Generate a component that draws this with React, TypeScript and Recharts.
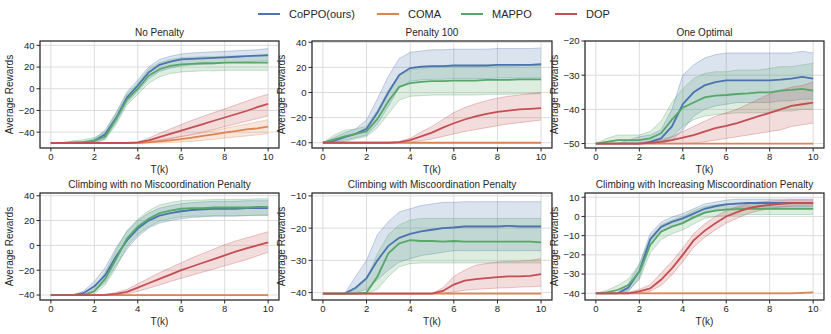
import React from "react";
import { ComposedChart, Line, Area, XAxis, YAxis, CartesianGrid } from "recharts";

// training steps (thousands)
const T = [0, 0.5, 1, 1.5, 2, 2.5, 3, 3.5, 4, 4.5, 5, 5.5, 6, 6.5, 7, 7.5, 8, 8.5, 9, 9.5, 10];

// flat baselines
const FLAT_50 = [-50, -50, -50, -50, -50, -50, -50, -50, -50, -50, -50, -50, -50, -50, -50, -50, -50, -50, -50, -50, -50];
const FLAT_40 = [-40, -40, -40, -40, -40, -40, -40, -40, -40, -40, -40, -40, -40, -40, -40, -40, -40, -40, -40, -40, -40];
const FLAT_403 = [-40.3, -40.3, -40.3, -40.3, -40.3, -40.3, -40.3, -40.3, -40.3, -40.3, -40.3, -40.3, -40.3, -40.3, -40.3, -40.3, -40.3, -40.3, -40.3, -40.3, -40.3];
const CI_COMA = [-40, -40, -40, -40, -40, -40, -40, -40, -40, -40, -40, -40, -40, -40, -40, -40, -40, -40, -40, -39.8, -39.5];

// No Penalty
const NP_COPPO = [-50, -50, -50, -50, -48, -42, -27, -8, 3, 15, 22, 25, 27, 27.5, 28, 28.5, 29, 29.5, 30, 30.5, 31];
const NP_COPPO_LO = [-50, -50, -50, -50, -50, -46, -31, -13, -2, 9, 16, 19, 21, 22, 22.5, 23, 24, 24.5, 25, 25.5, 26];
const NP_COPPO_HI = [-50, -50, -50, -49.5, -46, -38, -22, -3, 8, 20, 27, 30, 32, 33, 33.5, 34, 34.5, 35, 35.5, 36, 37];
const NP_COMA = [-50, -50, -50, -50, -50, -50, -50, -50, -50, -49.5, -48.5, -47.5, -46.5, -45, -43.5, -42, -40.5, -39, -37.5, -36.5, -35];
const NP_COMA_LO = [-50, -50, -50, -50, -50, -50, -50, -50, -50, -50, -50, -49.5, -49, -48.5, -47.5, -46.5, -45.5, -44.5, -43.5, -42.5, -41.5];
const NP_COMA_HI = [-50, -50, -50, -50, -50, -50, -50, -50, -49.5, -48.5, -47, -45.5, -44, -42.5, -40.5, -38.5, -36.5, -34.5, -32.5, -30.5, -28.5];
const NP_MAPPO = [-50, -50, -49.5, -49, -48, -44, -28, -10, 0, 12, 18, 21, 22.5, 23, 23.5, 23.5, 24, 24, 24, 24, 24];
const NP_MAPPO_LO = [-50, -50, -50, -50, -50, -47, -33, -15, -5, 5, 11, 14, 15.5, 16, 16.5, 16.5, 17, 17, 17, 17, 17];
const NP_MAPPO_HI = [-50, -50, -48, -47, -45, -40, -23, -5, 5, 18, 24, 27, 28.5, 29, 29.5, 29.5, 30, 30, 30, 30, 30];
const NP_DOP = [-50, -50, -50, -50, -50, -50, -50, -50, -49.5, -47.5, -44.5, -41.5, -38.5, -35.5, -32.5, -29.5, -26.5, -23.5, -20.5, -17, -14];
const NP_DOP_LO = [-50, -50, -50, -50, -50, -50, -50, -50, -50, -49.5, -48, -46, -44, -42, -40, -37.5, -35, -32.5, -30, -27.5, -25];
const NP_DOP_HI = [-50, -50, -50, -50, -50, -50, -50, -50, -49, -45.5, -41, -37, -33, -29, -25.5, -22, -18.5, -15, -11.5, -8, -5];

// Penalty 100
const P100_COPPO = [-40, -38.5, -35.5, -33, -29, -16, 0, 14, 19.5, 20.5, 21, 21, 21.5, 21.5, 21.5, 21.5, 22, 22, 22, 22, 22.5];
const P100_COPPO_LO = [-40, -40, -38, -36, -34, -25, -11, 4, 9, 10, 10.5, 10.5, 11, 11, 11, 11, 11.5, 11.5, 11.5, 11.5, 12];
const P100_COPPO_HI = [-40, -36, -32, -29, -22, -5, 13, 27, 32, 33, 34, 34, 34.5, 34.5, 34.5, 34.5, 35, 35, 35, 35, 35.5];
const P100_MAPPO = [-40, -37.5, -35, -33, -31, -21, -7, 4.5, 7.5, 8.5, 9, 9, 9.5, 9.5, 9.5, 10, 10, 10, 10.5, 10.5, 10.5];
const P100_MAPPO_LO = [-40, -40, -39, -37, -35, -28, -17, -6, -3, -2.5, -2, -2, -2, -2, -2, -1.5, -1.5, -1.5, -1, -1, -1];
const P100_MAPPO_HI = [-40, -34, -30, -29, -27, -14, 2, 14, 18, 19, 20, 20, 20.5, 20.5, 20.5, 21, 21, 21, 21.5, 21.5, 21.5];
const P100_DOP = [-40, -40, -40, -40, -40, -40, -40, -39.5, -38, -35, -32, -28, -24.5, -21.5, -19, -17, -15.5, -14.5, -13.5, -13, -12.5];
const P100_DOP_LO = [-40, -40, -40, -40, -40, -40, -40, -40, -39.5, -38.5, -37, -35, -33, -31, -29.5, -28, -26.5, -25, -24, -23, -22];
const P100_DOP_HI = [-40, -40, -40, -40, -40, -40, -40, -39, -36.5, -31.5, -27, -21.5, -16, -12, -9, -6.5, -4.5, -3, -2, -1, 0];

// One Optimal
const OO_COPPO = [-50, -50, -50, -50, -50, -49.5, -48.5, -45, -38.5, -35, -33, -32, -31.5, -31.5, -31.5, -31.5, -31.5, -31.3, -31, -30.5, -31];
const OO_COPPO_LO = [-50, -50, -50, -50, -50, -50, -50, -49, -46, -42, -40, -39, -38.5, -38, -38, -38, -38, -37.5, -37.5, -37, -37];
const OO_COPPO_HI = [-50, -50, -50, -49, -48, -47.5, -46, -40, -30, -27, -25, -24, -23.5, -23.5, -23.5, -23.5, -23.5, -23.5, -23.5, -23, -23.5];
const OO_MAPPO = [-50, -49.5, -49, -49, -49, -48.5, -47, -43, -39.5, -38, -36.5, -36, -35.8, -35.5, -35.3, -35, -35, -34.5, -34.3, -34, -34.5];
const OO_MAPPO_LO = [-50, -50, -50, -50, -50, -50, -49.5, -48, -45, -43, -42, -41.5, -41.3, -41, -41, -41, -41, -40.5, -40.5, -40, -40];
const OO_MAPPO_HI = [-50, -48.5, -47.5, -47.5, -47.5, -46.5, -43.5, -38, -34, -31, -29.5, -29, -29, -28.5, -28.5, -28.5, -28, -27.5, -27.5, -27, -26.5];
const OO_DOP = [-50, -50, -50, -50, -50, -49.8, -49.5, -49, -48.3, -47.5, -46.5, -45.5, -44.8, -44, -43, -42, -41, -40, -39, -38.5, -38];
const OO_DOP_LO = [-50, -50, -50, -50, -50, -50, -50, -50, -50, -49.8, -49.5, -49, -48.5, -48, -47.5, -47, -46.5, -46, -45, -44.5, -44];
const OO_DOP_HI = [-50, -50, -50, -50, -50, -49.5, -49, -48, -46.5, -45, -43.5, -42, -41, -40, -38.5, -37, -35.5, -34.5, -33.5, -33, -32];

// Climbing with no Miscoordination Penalty
const CN_COPPO = [-40, -40, -40, -38.5, -33, -24, -9, 4, 13.5, 20, 24, 26, 27.5, 28.5, 29, 29.5, 29.5, 29.5, 30, 30, 30];
const CN_COPPO_LO = [-40, -40, -40, -40, -37, -30, -16, -3, 7, 14, 18, 20, 21.5, 22.5, 23, 23.5, 23.5, 23.5, 24, 24, 24];
const CN_COPPO_HI = [-40, -40, -40, -37, -29, -18, -2, 11, 20, 26, 30, 32, 33.5, 34.5, 35, 35.5, 35.5, 35.5, 36, 36, 36];
const CN_MAPPO = [-40, -40, -40, -40, -37, -27, -11, 5.5, 15, 21.5, 26, 28, 29.5, 30, 30, 30.5, 30.5, 30.5, 30.5, 31, 31];
const CN_MAPPO_LO = [-40, -40, -40, -40, -39, -32, -18, -1, 9, 15, 19.5, 21.5, 23, 23.5, 23.5, 24, 24, 24, 24, 24.5, 24.5];
const CN_MAPPO_HI = [-40, -40, -40, -40, -35, -22, -4, 12, 21, 28, 32.5, 34.5, 36, 36.5, 36.5, 37, 37, 37, 37, 37.5, 37.5];
const CN_DOP = [-40, -40, -40, -40, -40, -39.8, -39, -37.5, -34, -30.5, -27, -23.5, -20, -17, -14, -11, -8, -5, -2.5, 0, 2.5];
const CN_DOP_LO = [-40, -40, -40, -40, -40, -40, -39.8, -39, -37, -34.5, -32, -29, -26.5, -24, -21.5, -19, -16.5, -14, -11.5, -8.5, -5.5];
const CN_DOP_HI = [-40, -40, -40, -40, -40, -39.5, -38, -35.5, -31, -26.5, -22, -18, -14, -10, -6.5, -3, 0.5, 3.5, 6, 8.5, 11];

// Climbing with Miscoordination Penalty
const CM_COPPO = [-40.3, -40.3, -40.3, -38.5, -35.5, -30, -25.5, -23, -21.8, -21, -20.5, -20, -19.8, -19.5, -19.5, -19.5, -19.5, -19.3, -19.5, -19.5, -19.5];
const CM_COPPO_LO = [-40.3, -40.3, -40.3, -40, -39, -36, -33, -30.5, -29.5, -28.5, -28, -27.5, -27, -27, -27, -27, -27, -27, -27, -27, -27];
const CM_COPPO_HI = [-40.3, -40.3, -40.3, -35, -30, -22, -18, -15, -14, -13, -12.5, -12, -12, -11.8, -11.8, -11.8, -11.8, -11.8, -11.8, -11.8, -11.8];
const CM_MAPPO = [-40.3, -40.3, -40.3, -40.3, -40, -35, -27.8, -24.7, -23.7, -24, -24, -24.2, -24, -24.2, -24.2, -24.2, -24.2, -24.2, -24.2, -24.2, -24.4];
const CM_MAPPO_LO = [-40.3, -40.3, -40.3, -40.3, -40.3, -39, -35, -32, -31, -30.8, -30.8, -30.8, -30.8, -30.8, -30.8, -30.8, -30.8, -30.8, -30.8, -30.8, -30.8];
const CM_MAPPO_HI = [-40.3, -40.3, -40.3, -39, -36, -28, -22, -19, -17.5, -17, -17, -17, -17, -17, -17, -17, -17, -17, -17, -17, -17];
const CM_DOP = [-40.3, -40.3, -40.3, -40.3, -40.3, -40.3, -40.3, -40.3, -40.3, -40.3, -40.3, -39.5, -37.5, -36.3, -35.8, -35.5, -35.2, -35, -35, -34.8, -34.3];
const CM_DOP_LO = [-40.3, -40.3, -40.3, -40.3, -40.3, -40.3, -40.3, -40.3, -40.3, -40.3, -40.3, -40.3, -39.8, -39.3, -39, -38.8, -38.6, -38.5, -38.3, -38.2, -38];
const CM_DOP_HI = [-40.3, -40.3, -40.3, -40.3, -40.3, -40.3, -40.3, -40.3, -40.3, -40.3, -40.3, -38.5, -35, -33, -31.5, -31, -30.5, -30.3, -30.2, -30, -29.5];

// Climbing with Increasing Miscoordination Penalty
const CI_COPPO = [-40, -40, -40, -37, -28.5, -12, -5.5, -2.8, -1, 1.5, 4, 5.3, 6.3, 6.7, 7, 7, 7, 7, 7, 7, 7];
const CI_COPPO_LO = [-40, -40, -40, -39, -32, -15, -8, -5.5, -3.5, -1, 1.5, 3, 4, 4.5, 5, 5, 5, 5, 5, 5, 5];
const CI_COPPO_HI = [-40, -40, -40, -35, -25, -9, -3, -0.3, 1.5, 4, 6.5, 7.5, 8.5, 9, 9, 9, 9, 9, 9, 9, 9];
const CI_MAPPO = [-40, -39.5, -38.3, -35.7, -29, -15, -8, -5.3, -3.5, -0.5, 2, 3, 3.5, 3.8, 4, 4, 4, 4, 4, 4, 4];
const CI_MAPPO_LO = [-40, -40, -40, -38.5, -33, -19, -12, -9, -7, -4, -1, 0, 0.5, 0.7, 1, 1, 1, 1, 1, 1, 1];
const CI_MAPPO_HI = [-40, -38.5, -36, -32.5, -25, -11, -4.5, -2, 0, 3, 5, 6, 6.5, 7, 7, 7, 7, 7, 7, 7, 7];
const CI_DOP = [-40, -40, -40, -40, -39, -37.5, -33, -27, -20, -12.5, -7.5, -3.5, 0, 2.2, 4.2, 5.3, 6, 6.6, 7, 7, 7];
const CI_DOP_LO = [-40, -40, -40, -40, -40, -39, -36, -30.5, -23.5, -16, -11, -7, -3.5, -1, 1.5, 3, 4, 4.8, 5.3, 5.5, 5.5];
const CI_DOP_HI = [-40, -40, -40, -39.5, -38, -35.5, -29.5, -23.5, -16.5, -9, -4, 0, 3, 5, 6.5, 7.5, 8, 8.3, 8.6, 8.6, 8.6];

const X_TICKS = [0, 2, 4, 6, 8, 10];
const NAMES = ["CoPPO(ours)", "COMA", "MAPPO", "DOP"];
const COLORS = ["#4c72b0", "#dd8452", "#55a868", "#c44e52"];

const FONT = "'Liberation Sans', Arial, Helvetica, sans-serif";
const INK = "#262626";
const YW = 36; // y axis width
const XH = 24; // x axis height
const MT = 8; // room above the plot so the top tick label is not clipped

type Series = { mean: number[]; lo: number[]; hi: number[] };

const PANELS = [
  {
    title: "No Penalty", x: 40, y: 41, w: 239, h: 107, domain: [-54.6, 44], ticks: [-40, -20, 0, 20, 40],
    series: [
      { mean: NP_COPPO, lo: NP_COPPO_LO, hi: NP_COPPO_HI },
      { mean: NP_COMA, lo: NP_COMA_LO, hi: NP_COMA_HI },
      { mean: NP_MAPPO, lo: NP_MAPPO_LO, hi: NP_MAPPO_HI },
      { mean: NP_DOP, lo: NP_DOP_LO, hi: NP_DOP_HI },
    ],
  },
  {
    title: "Penalty 100", x: 312, y: 41, w: 240, h: 107, domain: [-44.2, 41], ticks: [-40, -20, 0, 20, 40],
    series: [
      { mean: P100_COPPO, lo: P100_COPPO_LO, hi: P100_COPPO_HI },
      { mean: FLAT_40, lo: FLAT_40, hi: FLAT_40 },
      { mean: P100_MAPPO, lo: P100_MAPPO_LO, hi: P100_MAPPO_HI },
      { mean: P100_DOP, lo: P100_DOP_LO, hi: P100_DOP_HI },
    ],
  },
  {
    title: "One Optimal", x: 585, y: 41, w: 239, h: 107, domain: [-51.3, -20], ticks: [-50, -40, -30, -20],
    series: [
      { mean: OO_COPPO, lo: OO_COPPO_LO, hi: OO_COPPO_HI },
      { mean: FLAT_50, lo: FLAT_50, hi: FLAT_50 },
      { mean: OO_MAPPO, lo: OO_MAPPO_LO, hi: OO_MAPPO_HI },
      { mean: OO_DOP, lo: OO_DOP_LO, hi: OO_DOP_HI },
    ],
  },
  {
    title: "Climbing with no Miscoordination Penalty", x: 40, y: 193, w: 239, h: 107, domain: [-44, 42.2], ticks: [-40, -20, 0, 20, 40],
    series: [
      { mean: CN_COPPO, lo: CN_COPPO_LO, hi: CN_COPPO_HI },
      { mean: FLAT_40, lo: FLAT_40, hi: FLAT_40 },
      { mean: CN_MAPPO, lo: CN_MAPPO_LO, hi: CN_MAPPO_HI },
      { mean: CN_DOP, lo: CN_DOP_LO, hi: CN_DOP_HI },
    ],
  },
  {
    title: "Climbing with Miscoordination Penalty", x: 312, y: 193, w: 240, h: 107, domain: [-42.3, -9.1], ticks: [-40, -30, -20, -10],
    series: [
      { mean: CM_COPPO, lo: CM_COPPO_LO, hi: CM_COPPO_HI },
      { mean: FLAT_403, lo: FLAT_403, hi: FLAT_403 },
      { mean: CM_MAPPO, lo: CM_MAPPO_LO, hi: CM_MAPPO_HI },
      { mean: CM_DOP, lo: CM_DOP_LO, hi: CM_DOP_HI },
    ],
  },
  {
    title: "Climbing with Increasing Miscoordination Penalty", x: 585, y: 193, w: 239, h: 107, domain: [-43.5, 12.2], ticks: [-40, -30, -20, -10, 0, 10],
    series: [
      { mean: CI_COPPO, lo: CI_COPPO_LO, hi: CI_COPPO_HI },
      { mean: CI_COMA, lo: CI_COMA, hi: CI_COMA },
      { mean: CI_MAPPO, lo: CI_MAPPO_LO, hi: CI_MAPPO_HI },
      { mean: CI_DOP, lo: CI_DOP_LO, hi: CI_DOP_HI },
    ],
  },
];

const fmt = (v: number) => String(v).replace("-", "\u2212");

function Panel({ p }: { p: (typeof PANELS)[number] }) {
  const rows = T.map((t, i) => {
    const r: Record<string, any> = { t };
    p.series.forEach((s: Series, k) => {
      r[`m${k}`] = s.mean[i];
      r[`b${k}`] = [s.lo[i], s.hi[i]];
    });
    return r;
  });

  return (
    <div style={{ position: "absolute", left: p.x - YW, top: p.y - MT }}>
      <ComposedChart
        width={p.w + YW}
        height={p.h + XH + MT}
        data={rows}
        margin={{ top: MT, right: 0, bottom: 0, left: 0 }}
      >
        <CartesianGrid stroke="#dcdcdc" strokeWidth={1} />
        <XAxis
          dataKey="t"
          type="number"
          domain={[-0.5, 10.5]}
          ticks={X_TICKS}
          interval={0}
          height={XH}
          axisLine={false}
          tickLine={{ stroke: INK }}
          tickSize={3.5}
          tickMargin={2}
          tick={{ fontSize: 9.5, fill: INK, fontFamily: FONT }}
        />
        <YAxis
          type="number"
          domain={p.domain}
          ticks={p.ticks}
          interval={0}
          width={YW}
          allowDataOverflow
          axisLine={false}
          tickLine={{ stroke: INK }}
          tickSize={3.5}
          tickMargin={2}
          tickFormatter={fmt}
          tick={{ fontSize: 9.5, fill: INK, fontFamily: FONT }}
        />
        {p.series.map((_, k) => (
          <Area
            key={`b${k}`}
            dataKey={`b${k}`}
            type="linear"
            stroke={COLORS[k]}
            strokeOpacity={0.4}
            strokeWidth={0.8}
            fill={COLORS[k]}
            fillOpacity={0.2}
            dot={false}
            activeDot={false}
            isAnimationActive={false}
          />
        ))}
        {p.series.map((_, k) => (
          <Line
            key={`m${k}`}
            dataKey={`m${k}`}
            type="linear"
            stroke={COLORS[k]}
            strokeWidth={1.8}
            dot={false}
            activeDot={false}
            isAnimationActive={false}
          />
        ))}
      </ComposedChart>
    </div>
  );
}

const LEGEND_X = [258, 377, 461, 555];

export default function App() {
  return (
    <div style={{ position: "absolute", left: 0, top: 0, width: 831, height: 334, background: "#fff", fontFamily: FONT }}>
      {PANELS.map((p, i) => (
        <Panel key={i} p={p} />
      ))}
      <svg width={831} height={334} style={{ position: "absolute", left: 0, top: 0, pointerEvents: "none" }} fontFamily={FONT}>
        {/* legend */}
        {NAMES.map((n, i) => (
          <g key={n}>
            <line x1={LEGEND_X[i]} x2={LEGEND_X[i] + 22} y1={14} y2={14} stroke={COLORS[i]} strokeWidth={2} />
            <text x={LEGEND_X[i] + 31} y={14} fontSize={11} fill={INK} dominantBaseline="central">
              {n}
            </text>
          </g>
        ))}
        {PANELS.map((p, i) => (
          <g key={i}>
            <rect x={p.x} y={p.y} width={p.w} height={p.h} fill="none" stroke={INK} strokeWidth={1.2} />
            <text x={p.x + p.w / 2} y={p.y - 5} fontSize={10} fill={INK} textAnchor="middle">
              {p.title}
            </text>
            <text x={p.x + p.w / 2} y={p.y + p.h + 25} fontSize={10} fill={INK} textAnchor="middle">
              T(k)
            </text>
            <text
              transform={`translate(${p.x - 31}, ${p.y + p.h / 2}) rotate(-90)`}
              fontSize={10}
              fill={INK}
              textAnchor="middle"
              dominantBaseline="central"
            >
              Average Rewards
            </text>
          </g>
        ))}
      </svg>
    </div>
  );
}
